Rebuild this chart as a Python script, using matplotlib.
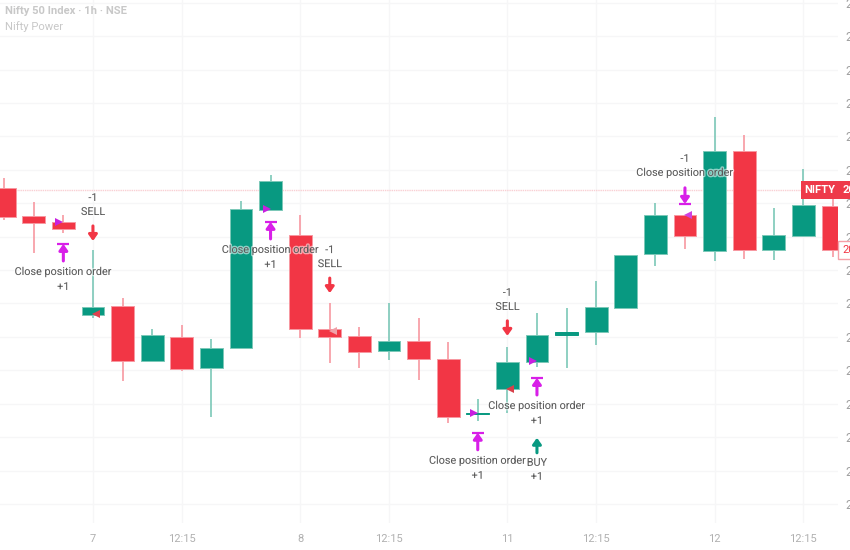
import matplotlib
matplotlib.use('Agg')
import matplotlib.pyplot as plt
import matplotlib.patheffects as pe

# hourly candles, index 0 is the first bar of the 7th
candle_idx = list(range(-3, 26))
opens = [20954.5, 20946.2, 20944.4, 20916.5, 20919.2, 20902.8, 20910.0, 20900.7, 20906.7, 20948.0,
         20940.5, 20912.4, 20910.3, 20905.8, 20908.8, 20903.4, 20886.9, 20894.4, 20902.5, 20910.6,
         20911.5, 20918.6, 20934.8, 20946.5, 20935.7, 20965.6, 20936.0, 20940.2, 20949.2]
closes = [20945.9, 20944.1, 20942.3, 20918.9, 20902.8, 20910.6, 20900.4, 20906.7, 20948.3, 20956.6,
          20912.4, 20910.0, 20905.5, 20908.8, 20903.4, 20886.0, 20887.2, 20902.5, 20910.6, 20911.5,
          20918.9, 20934.5, 20946.5, 20940.2, 20965.6, 20936.0, 20940.5, 20949.5, 20936.0]
highs = [20957.5, 20950.3, 20946.5, 20936.0, 20921.6, 20912.4, 20913.6, 20909.4, 20950.6, 20958.4,
         20946.5, 20920.1, 20913.0, 20920.1, 20915.6, 20908.5, 20891.4, 20907.0, 20917.1, 20918.6,
         20926.7, 20934.5, 20950.0, 20946.5, 20975.8, 20970.4, 20948.6, 20960.2, 20952.1]
lows = [20945.0, 20935.1, 20941.1, 20915.6, 20896.8, 20902.8, 20899.8, 20886.0, 20906.7, 20948.0,
        20909.7, 20902.2, 20900.7, 20903.1, 20897.1, 20884.2, 20884.8, 20887.2, 20901.0, 20900.7,
        20907.6, 20918.6, 20931.2, 20936.3, 20932.7, 20933.3, 20933.0, 20939.9, 20933.9]

tick_idx = [0, 3, 7, 10, 14, 17, 21, 24]
tick_labels = ['7', '12:15', '8', '12:15', '11', '12:15', '12', '12:15']
price_ticks = list(range(20860, 21011, 10))

last_price = 20953.9
last_close = 20936.0

# strategy orders: bar, arrow tip price, kind
order_idx = [-1, 0, 6, 8, 13, 14, 15, 15, 20]
order_price = [20937.8, 20938.7, 20944.4, 20923.1, 20881.3, 20910.3, 20897.7, 20879.8, 20949.8]
order_kind = ['close_up', 'sell', 'close_up', 'sell', 'close_up', 'sell', 'close_up', 'buy', 'close_down']

# little triangles where the fill happened
fill_idx = [-1, 0, 6, 8, 13, 14, 15, 20]
fill_price = [20944.4, 20916.8, 20948.3, 20911.8, 20887.2, 20894.4, 20902.8, 20946.5]
fill_side = ['>', '<', '>', '<', '>', '<', '>', '<']
fill_color = ['#c81fe0', '#e0414f', '#c81fe0', '#f0a0a8', '#c81fe0', '#d8404a', '#c81fe0', '#d040e0']

RED = '#f23645'
GREEN = '#089981'
MAGENTA = '#d81fe8'
TEXT = '#5a5a5a'
FONT = ['Roboto', 'DejaVu Sans']

fig = plt.figure(figsize=(8.5, 5.5), dpi=100)
ax = fig.add_axes([0, 27 / 550, 838 / 850, 523 / 550])
ax.set_xlim(-3.14, 25.17)
ax.set_ylim(20854.3, 21010.8)

for s in ax.spines.values():
    s.set_visible(False)

ax.set_xticks(tick_idx)
ax.set_xticklabels(tick_labels, color='#b0b0b0', fontsize=8, family=FONT)
ax.yaxis.tick_right()
ax.set_yticks(price_ticks)
ax.set_yticklabels([str(p) for p in price_ticks], color='#a0a0a0', fontsize=9, family=FONT)
ax.tick_params(axis='both', length=0)
ax.tick_params(axis='x', pad=8)
ax.tick_params(axis='y', pad=5)
ax.grid(True, color='#f6f6f7', linewidth=1)
ax.set_axisbelow(True)

# price line
ax.axhline(last_price, color='#f9cfd3', linewidth=1, linestyle=(0, (1, 0.6)), zorder=1)

for i, o, c, h, l in zip(candle_idx, opens, closes, highs, lows):
    col = GREEN if c >= o else RED
    pale = '#7cc8b8' if c >= o else '#f798a1'
    ax.vlines(i, l, h, color=pale, linewidth=1.2, zorder=2)
    ax.bar(i, abs(c - o), bottom=min(o, c), width=0.77, color=col, edgecolor=col if abs(c - o) < 2 else pale,
           linewidth=0.7, zorder=3)


def label(i, price, dy, txt):
    # dy is in pixels from the arrow tip
    ax.annotate(txt, (i, price), xytext=(0, dy), textcoords='offset pixels', ha='center', va='center',
                fontsize=7.8, color=TEXT, family=FONT, zorder=6,
                path_effects=[pe.withStroke(linewidth=2, foreground='white', alpha=0.55)])


def arrow(i, price, dy, color, bar=False):
    ax.annotate('', (i, price), xytext=(0, dy), textcoords='offset pixels', zorder=6,
                arrowprops=dict(arrowstyle='-|>,head_width=0.25,head_length=0.35', color=color, lw=2.2,
                                shrinkA=0, shrinkB=0))
    if bar:
        ax.plot([i], [price], marker='_', markersize=9, markeredgewidth=1.6, color=color, zorder=6)


for i, p, kind in zip(order_idx, order_price, order_kind):
    if kind == 'close_up':
        arrow(i, p, -17, MAGENTA, bar=True)
        label(i, p, -28, 'Close position order')
        label(i, p, -43, '+1')
    elif kind == 'sell':
        arrow(i, p, 15, RED)
        label(i, p, 29, 'SELL')
        label(i, p, 43, '-1')
    elif kind == 'buy':
        arrow(i, p, -15, GREEN)
        label(i, p, -25, 'BUY')
        label(i, p, -39, '+1')
    else:
        arrow(i, p, 16, MAGENTA, bar=True)
        label(i, p, 31, 'Close position order')
        label(i, p, 45, '-1')

for i, p, side, col in zip(fill_idx, fill_price, fill_side, fill_color):
    shift = -0.13 if side == '>' else 0.1
    ax.plot(i + shift, p, marker=side, markersize=6, color=col, markeredgewidth=0, zorder=7, linestyle='none')

# tags on the right
ax.text(24.56, last_price, 'NIFTY', color='white', fontsize=8, weight='bold', family=FONT, ha='center', va='center',
        zorder=8, bbox=dict(boxstyle='square,pad=0.35', facecolor='#ee3a4a', edgecolor='none'))
ax.text(25.31, last_price, '20953.9', color='white', fontsize=8, weight='bold', family=FONT, ha='left', va='center',
        zorder=8, clip_on=False, bbox=dict(boxstyle='square,pad=0.35', facecolor='#ee3a4a', edgecolor='none'))
ax.text(25.31, last_close, '20936.0', color=RED, fontsize=8, family=FONT, ha='left', va='center',
        zorder=8, clip_on=False, bbox=dict(boxstyle='square,pad=0.35', facecolor='white', edgecolor='#f5a0a8'))

fig.text(5 / 850, 1 - 11 / 550, 'Nifty 50 Index · 1h · NSE', color='#c8c8c8', fontsize=8.1, weight='bold',
         family=FONT, va='center')
fig.text(5 / 850, 1 - 27 / 550, 'Nifty Power', color='#c8c8c8', fontsize=8.1, family=FONT, va='center')

fig.savefig('out.png', dpi=100)
